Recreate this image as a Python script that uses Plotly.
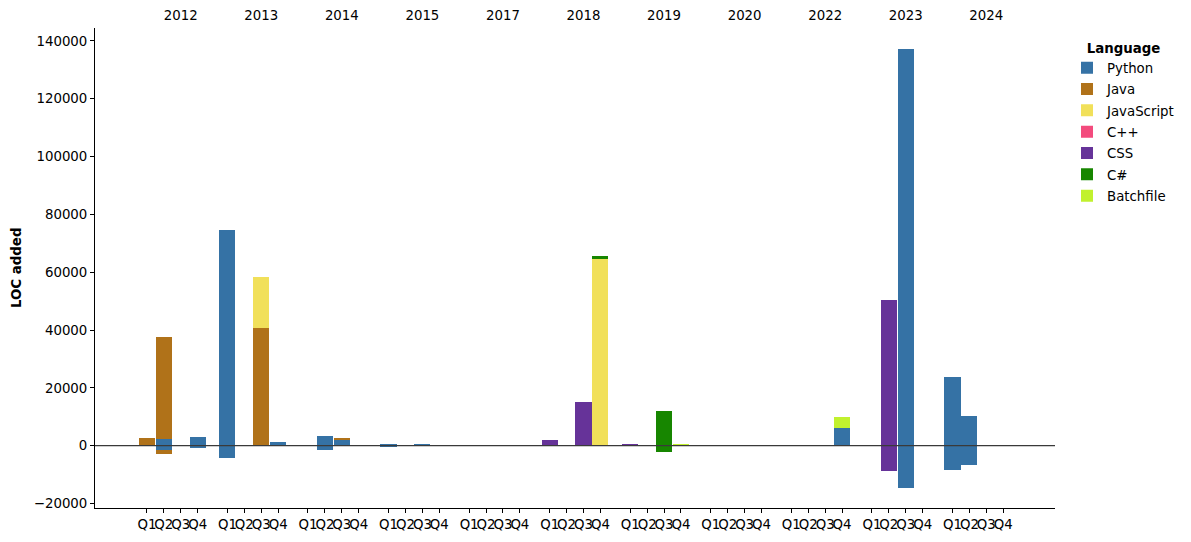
import plotly.graph_objects as go

years = ["2012", "2013", "2014", "2015", "2017", "2018", "2019", "2020", "2022", "2023", "2024"]
quarters = ["Q1", "Q2", "Q3", "Q4"]
languages = ["Python", "Java", "JavaScript", "C++", "CSS", "C#", "Batchfile"]
colors = ["#3572A5", "#b07219", "#f1e05a", "#f34b7d", "#663399", "#178600", "#c1f12e"]

# LOC added (positive) per quarter, years in order above, Q1..Q4
python_added = [0, 2320, 0, 3010,  74590, 0, 0, 1380,  0, 3350, 1970, 0,  590, 0, 350, 0,
                0, 0, 0, 0,  0, 0, 0, 0,  0, 0, 0, 0,  0, 0, 0, 0,
                0, 0, 0, 6120,  0, 0, 137300, 0,  23760, 10270, 0, 0]
java_added = [2660, 35270, 0, 0,  0, 0, 40700, 0,  0, 0, 800, 0,  0, 0, 0, 0,
              0, 0, 0, 0,  0, 0, 0, 0,  0, 0, 0, 0,  0, 0, 0, 0,
              0, 0, 0, 0,  0, 0, 0, 0,  0, 0, 0, 0]
javascript_added = [0, 0, 0, 0,  0, 0, 17640, 0,  0, 0, 0, 0,  0, 0, 0, 0,
                    0, 0, 0, 0,  0, 0, 0, 64560,  0, 0, 0, 0,  0, 0, 0, 0,
                    0, 0, 0, 0,  0, 0, 0, 0,  0, 0, 0, 0]
cpp_added = [0, 0, 0, 0,  0, 0, 0, 0,  0, 0, 0, 0,  0, 0, 0, 0,
             0, 0, 0, 0,  0, 0, 0, 0,  0, 0, 0, 0,  0, 0, 0, 0,
             0, 0, 0, 0,  0, 0, 0, 0,  0, 0, 0, 0]
css_added = [0, 0, 0, 0,  0, 0, 0, 0,  0, 0, 0, 0,  0, 0, 0, 0,
             0, 0, 0, 0,  1970, 0, 15110, 0,  400, 0, 0, 0,  0, 0, 0, 0,
             0, 0, 0, 0,  0, 50380, 0, 0,  0, 0, 0, 0]
csharp_added = [0, 0, 0, 0,  0, 0, 0, 0,  0, 0, 0, 0,  0, 0, 0, 0,
                0, 0, 0, 0,  0, 0, 0, 1040,  0, 0, 12000, 0,  0, 0, 0, 0,
                0, 0, 0, 0,  0, 0, 0, 0,  0, 0, 0, 0]
batchfile_added = [0, 0, 0, 0,  0, 0, 0, 0,  0, 0, 0, 0,  0, 0, 0, 0,
                   0, 0, 0, 0,  0, 0, 0, 0,  0, 0, 0, 300,  0, 0, 0, 0,
                   0, 0, 0, 3800,  0, 0, 0, 0,  0, 0, 0, 0]

# LOC deleted (negative)
python_deleted = [0, -1490, 0, -690,  -4150, 0, 0, 0,  0, -1490, 0, 0,  -300, 0, 0, 0,
                  0, 0, 0, 0,  0, 0, 0, 0,  0, 0, 0, 0,  0, 0, 0, 0,
                  0, 0, 0, 0,  0, 0, -14500, 0,  -8400, -6670, 0, 0]
java_deleted = [0, -1380, 0, 0,  0, 0, 0, 0,  0, 0, 0, 0,  0, 0, 0, 0,
                0, 0, 0, 0,  0, 0, 0, 0,  0, 0, 0, 0,  0, 0, 0, 0,
                0, 0, 0, 0,  0, 0, 0, 0,  0, 0, 0, 0]
javascript_deleted = [0] * 44
cpp_deleted = [0] * 44
css_deleted = [0, 0, 0, 0,  0, 0, 0, 0,  0, 0, 0, 0,  0, 0, 0, 0,
               0, 0, 0, 0,  0, 0, 0, 0,  0, 0, 0, 0,  0, 0, 0, 0,
               0, 0, 0, 0,  0, -8750, 0, 0,  0, 0, 0, 0]
csharp_deleted = [0, 0, 0, 0,  0, 0, 0, 0,  0, 0, 0, 0,  0, 0, 0, 0,
                  0, 0, 0, 0,  0, 0, 0, 0,  0, 0, -2180, 0,  0, 0, 0, 0,
                  0, 0, 0, 0,  0, 0, 0, 0,  0, 0, 0, 0]
batchfile_deleted = [0] * 44

added = [python_added, java_added, javascript_added, cpp_added, css_added, csharp_added, batchfile_added]
deleted = [python_deleted, java_deleted, javascript_deleted, cpp_deleted, css_deleted, csharp_deleted, batchfile_deleted]

y_ticks = [-20000, 0, 20000, 40000, 60000, 80000, 100000, 120000, 140000]

Q_STEP = 0.21
BAR_W = 0.2
xpos = [yi + (qi - 2) * Q_STEP for yi in range(len(years)) for qi in range(len(quarters))]
qlabels = [q for _ in years for q in quarters]

FONT = "DejaVu Sans"
FS = 13.33
fig = go.Figure()
for lang, col, a, d in zip(languages, colors, added, deleted):
    fig.add_trace(go.Bar(x=xpos, y=a, width=BAR_W, name=lang, marker=dict(color=col, line=dict(width=0)),
                         legendgroup=lang, showlegend=True))
    fig.add_trace(go.Bar(x=xpos, y=d, width=BAR_W, name=lang, marker=dict(color=col, line=dict(width=0)),
                         legendgroup=lang, showlegend=False))

# invisible trace to carry the top year axis
fig.add_trace(go.Scatter(x=[0, len(years) - 1], y=[0, 0], xaxis="x2", mode="markers",
                         marker=dict(opacity=0), showlegend=False, hoverinfo="skip"))

xr = [-1.064, 10.853]
fig.update_layout(
    width=1191, height=542,
    margin=dict(l=95, r=136, t=28, b=34, autoexpand=False),
    barmode="relative",
    bargap=0,
    plot_bgcolor="white", paper_bgcolor="white",
    font=dict(family=FONT, size=FS, color="black"),
    xaxis=dict(range=xr, tickvals=xpos, ticktext=qlabels, tickangle=0, automargin=False,
               showline=True, linecolor="black", linewidth=1, mirror=False,
               ticks="outside", ticklen=4, tickcolor="black", showgrid=False, zeroline=False,
               tickfont=dict(size=FS)),
    xaxis2=dict(range=xr, overlaying="x", side="top", tickvals=list(range(len(years))), ticktext=years,
                tickangle=0, showline=False, ticks="outside", ticklen=2, tickcolor="rgba(0,0,0,0)",
                automargin=False, showgrid=False, zeroline=False, tickfont=dict(size=FS)),
    yaxis=dict(range=[-21540, 144440], tickvals=y_ticks, automargin=False,
               ticktext=[("\u2212" + str(-v)) if v < 0 else str(v) for v in y_ticks],
               showline=True, linecolor="black", linewidth=1, ticks="outside", ticklen=4,
               tickcolor="black", showgrid=False, zeroline=False, tickfont=dict(size=FS)),
    legend=dict(x=1.0125, y=0.985, xanchor="left", yanchor="top",
                title=dict(text="<b>Language</b>", side="top center", font=dict(size=FS)),
                font=dict(size=FS), bgcolor="rgba(0,0,0,0)", traceorder="grouped", tracegroupgap=1),
    annotations=[dict(text="<b>LOC added</b>", xref="paper", yref="paper", x=-0.0823, y=0.5,
                      textangle=-90, showarrow=False, font=dict(size=FS), xanchor="center", yanchor="middle")],
    shapes=[dict(type="line", xref="paper", yref="y", x0=0, x1=1, y0=0, y1=0,
                 line=dict(color="#3a3a3a", width=1.2), layer="above")],
)

fig.write_html("out.html")
